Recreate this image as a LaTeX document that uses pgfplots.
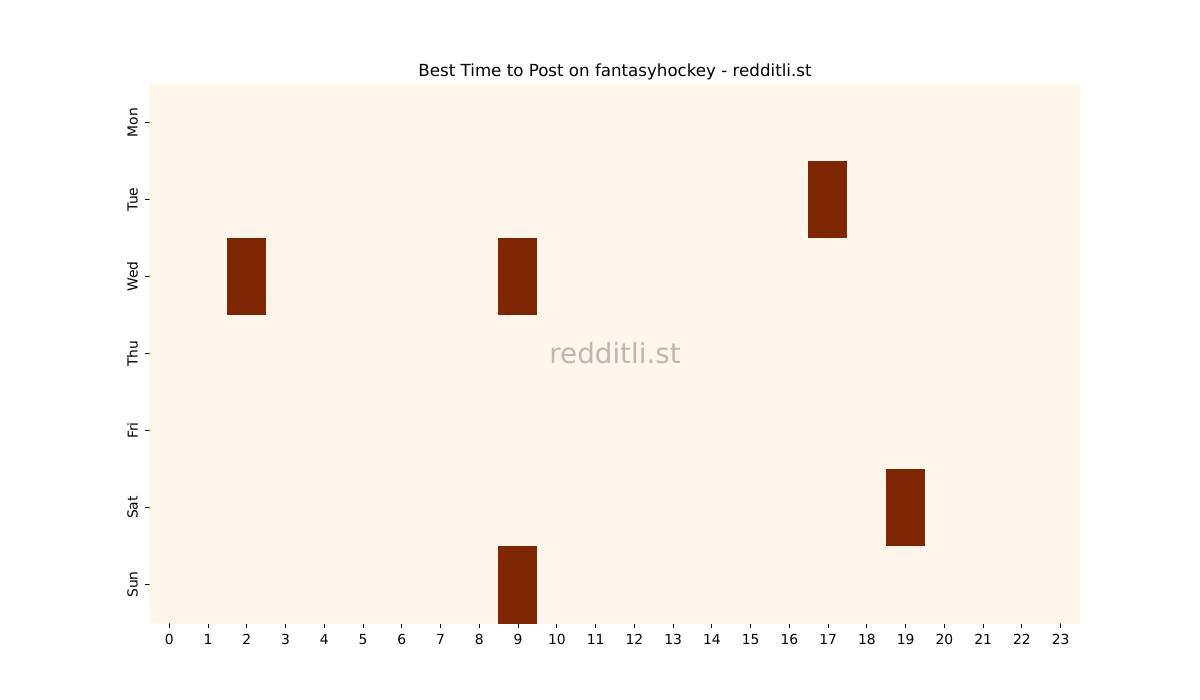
\documentclass[border=0pt]{standalone}
\usepackage{pgfplots}
\pgfplotsset{compat=1.18}
\usepackage{fontspec}
\setmainfont{DejaVu Sans}
\definecolor{wmark}{RGB}{190,182,177}
\begin{document}
\begin{tikzpicture}
\path[use as bounding box] (-112.5pt,-57.75pt) rectangle (787.5pt,467.25pt);
\begin{axis}[
    at={(0,0)}, anchor=south west,
    scale only axis,
    width=697.5pt, height=404.25pt,
    xmin=-0.5, xmax=23.5,
    ymin=-0.5, ymax=6.5,
    y dir=reverse,
    axis line style={draw=none},
    axis background/.style={fill=white},
    xtick={0,...,23},
    ytick={0,...,6},
    yticklabels={Mon,Tue,Wed,Thu,Fri,Sat,Sun},
    tick align=outside,
    major tick length=3.65pt,
    xtick pos=bottom, ytick pos=left,
    tick style={black, line width=0.6pt},
    /pgf/number format/assume math mode=true,
    ticklabel style={font=\fontsize{10.4}{12}\selectfont},
    xticklabel style={yshift=-1pt},
    yticklabel style={rotate=90, anchor=south, yshift=2pt},
    colormap={oranges}{rgb255=(255,245,235) rgb255=(127,39,4)},
    point meta min=0, point meta max=1,
    clip=false,
]
\addplot[matrix plot*, mesh/cols=24, point meta=explicit, draw=none] coordinates {
(0,0)[0] (1,0)[0] (2,0)[0] (3,0)[0] (4,0)[0] (5,0)[0] (6,0)[0] (7,0)[0] (8,0)[0] (9,0)[0] (10,0)[0] (11,0)[0] (12,0)[0] (13,0)[0] (14,0)[0] (15,0)[0] (16,0)[0] (17,0)[0] (18,0)[0] (19,0)[0] (20,0)[0] (21,0)[0] (22,0)[0] (23,0)[0]

(0,1)[0] (1,1)[0] (2,1)[0] (3,1)[0] (4,1)[0] (5,1)[0] (6,1)[0] (7,1)[0] (8,1)[0] (9,1)[0] (10,1)[0] (11,1)[0] (12,1)[0] (13,1)[0] (14,1)[0] (15,1)[0] (16,1)[0] (17,1)[1] (18,1)[0] (19,1)[0] (20,1)[0] (21,1)[0] (22,1)[0] (23,1)[0]

(0,2)[0] (1,2)[0] (2,2)[1] (3,2)[0] (4,2)[0] (5,2)[0] (6,2)[0] (7,2)[0] (8,2)[0] (9,2)[1] (10,2)[0] (11,2)[0] (12,2)[0] (13,2)[0] (14,2)[0] (15,2)[0] (16,2)[0] (17,2)[0] (18,2)[0] (19,2)[0] (20,2)[0] (21,2)[0] (22,2)[0] (23,2)[0]

(0,3)[0] (1,3)[0] (2,3)[0] (3,3)[0] (4,3)[0] (5,3)[0] (6,3)[0] (7,3)[0] (8,3)[0] (9,3)[0] (10,3)[0] (11,3)[0] (12,3)[0] (13,3)[0] (14,3)[0] (15,3)[0] (16,3)[0] (17,3)[0] (18,3)[0] (19,3)[0] (20,3)[0] (21,3)[0] (22,3)[0] (23,3)[0]

(0,4)[0] (1,4)[0] (2,4)[0] (3,4)[0] (4,4)[0] (5,4)[0] (6,4)[0] (7,4)[0] (8,4)[0] (9,4)[0] (10,4)[0] (11,4)[0] (12,4)[0] (13,4)[0] (14,4)[0] (15,4)[0] (16,4)[0] (17,4)[0] (18,4)[0] (19,4)[0] (20,4)[0] (21,4)[0] (22,4)[0] (23,4)[0]

(0,5)[0] (1,5)[0] (2,5)[0] (3,5)[0] (4,5)[0] (5,5)[0] (6,5)[0] (7,5)[0] (8,5)[0] (9,5)[0] (10,5)[0] (11,5)[0] (12,5)[0] (13,5)[0] (14,5)[0] (15,5)[0] (16,5)[0] (17,5)[0] (18,5)[0] (19,5)[1] (20,5)[0] (21,5)[0] (22,5)[0] (23,5)[0]

(0,6)[0] (1,6)[0] (2,6)[0] (3,6)[0] (4,6)[0] (5,6)[0] (6,6)[0] (7,6)[0] (8,6)[0] (9,6)[1] (10,6)[0] (11,6)[0] (12,6)[0] (13,6)[0] (14,6)[0] (15,6)[0] (16,6)[0] (17,6)[0] (18,6)[0] (19,6)[0] (20,6)[0] (21,6)[0] (22,6)[0] (23,6)[0]
};
% watermark
\node[text=wmark, font=\fontsize{20.8}{24}\selectfont] at (axis cs:11.5,3) {redditli.st};
% title
\node[anchor=base, font=\fontsize{12.5}{15}\selectfont] at ([yshift=6pt]rel axis cs:0.5,1) {Best Time to Post on fantasyhockey - redditli.st};
\end{axis}
\end{tikzpicture}
\end{document}
